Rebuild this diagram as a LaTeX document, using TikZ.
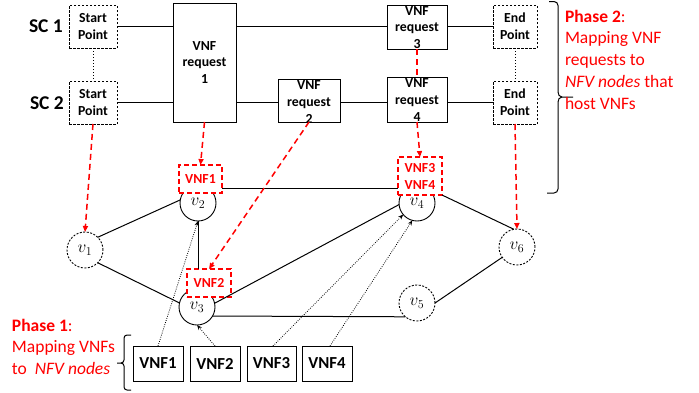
\documentclass[tikz,border=0pt]{standalone}
\usepackage{fontspec}
\setmainfont{Carlito}
\usetikzlibrary{arrows.meta,calc}
\definecolor{myred}{RGB}{255,0,0}
\begin{document}
\begin{tikzpicture}[x=1pt,y=-1pt,
  every node/.style={inner sep=0pt, outer sep=0pt},
  ptbox/.style={draw, line width=0.9pt, dash pattern=on 2.5pt off 1.5pt, fill=white, minimum width=48pt, minimum height=43pt},
  reqbox/.style={draw, line width=1pt, fill=white},
  btxt/.style={font=\fontsize{13.8}{16.8}\selectfont\bfseries, align=center},
  vn/.style={circle, draw, line width=0.9pt, minimum size=36pt, fill=white, font=\fontsize{16.5}{16.5}\selectfont},
  vnd/.style={vn, dash pattern=on 2pt off 1.5pt},
  redbox/.style={draw=myred, line width=1.5pt, dash pattern=on 5pt off 3pt, fill=white, text=myred, font=\fontsize{13.8}{17}\selectfont\bfseries, align=center},
  reddash/.style={draw=myred, line width=1.5pt, dash pattern=on 6pt off 4pt},
  redarr/.style={reddash, -{Triangle[length=6pt,width=5pt]}},
  dotarr/.style={line width=0.8pt, dash pattern=on 0.8pt off 1.4pt, -{Stealth[length=5pt,width=4pt]}},
  lnk/.style={line width=1pt},
  dotlnk/.style={line width=1pt, dash pattern=on 1pt off 2pt},
  vnfbox/.style={draw, line width=1pt, minimum height=35pt, font=\fontsize{16.8}{18}\selectfont\bfseries},
  phase/.style={text=myred, font=\fontsize{17.5}{21.7}\selectfont, align=left, anchor=north west},
  sclab/.style={font=\fontsize{19.5}{21}\selectfont\bfseries, anchor=base west}
]
\useasboundingbox (0,0) rectangle (699,392);
\fill[white] (0,0) rectangle (699,392);

% service chain labels
\node[sclab] (sc1) at (29,32) {SC 1};
\node[sclab] (sc2) at (30,109) {SC 2};

% top boxes
\node[ptbox] (s1) at (93,26.5) {};
\node[btxt] at (s1) {Start\\Point};
\node[ptbox] (s2) at (93,102.5) {};
\node[btxt] at (s2) {Start\\Point};
\node[reqbox, minimum width=63pt, minimum height=119pt] (r1) at (204.5,62.5) {};
\node[btxt] at (r1) {VNF\\request\\1};
\node[reqbox, minimum width=60pt, minimum height=44pt] (r3) at (417,27) {};
\node[btxt] at (417,27.5) {VNF\\request\\3};
\node[reqbox, minimum width=62pt, minimum height=43pt] (r2) at (309,100.5) {};
\node[btxt] at (309,102) {VNF\\request\\2};
\node[reqbox, minimum width=60pt, minimum height=45pt] (r4) at (417,99.5) {};
\node[btxt] at (417,100) {VNF\\request\\4};
\node[ptbox, minimum width=44pt] (e1) at (515,26.5) {};
\node[btxt] at (e1) {End\\Point};
\node[ptbox, minimum width=44pt] (e2) at (515,102.5) {};
\node[btxt] at (e2) {End\\Point};

% chain lines
\draw[lnk] (s1.east) -- (s1.east -| r1.west);
\draw[lnk] (r1.east |- s1.east) -- (r3.west |- s1.east);
\draw[lnk] (r3.east |- s1.east) -- (e1.west);
\draw[lnk] (s2.east) -- (s2.east -| r1.west);
\draw[lnk] (r1.east |- s2.east) -- (r2.west |- s2.east);
\draw[lnk] (r2.east |- s2.east) -- (r4.west |- s2.east);
\draw[lnk] (r4.east |- s2.east) -- (e2.west);
\draw[dotlnk] (s1.south) -- (s2.north);
\draw[dotlnk] (e1.south) -- (e2.north);
\draw[reddash] (r3.south) -- (r4.north);

% graph nodes
\node[vnd] (v1) at (85,250) {$v_1$};
\node[vn] (v2) at (198,203) {$v_2$};
\node[vn] (v3) at (197,307) {$v_3$};
\node[vn] (v4) at (417,203) {$v_4$};
\node[vnd] (v5) at (417,303) {$v_5$};
\node[vnd] (v6) at (517,247) {$v_6$};

% red boxes
\node[redbox, minimum width=43pt, minimum height=28pt] (f1) at (200.5,179) {VNF1};
\node[redbox, minimum width=44pt, minimum height=28pt] (f2) at (209,283) {VNF2};
\node[redbox, minimum width=44pt, minimum height=38pt] (f34) at (420,176) {VNF3\\VNF4};

% graph edges
\draw[lnk] (v1.45) -- (v2.170);
\draw[lnk] (v1.-45) -- (v3.167);
\draw[lnk] (v2.south) -- (v2.south |- f2.north);
\draw[lnk] ([yshift=-9pt]f1.east) -- ([yshift=-9pt]f1.east -| f34.west);
\draw[lnk] (v3.12) -- (v4.185);
\draw[lnk] (v3.-30) -- (v5.230);
\draw[lnk] (f34.south east) -- (v6.100);
\draw[lnk] (v5.east) -- (v6.215);

% bottom VNF boxes
\node[vnfbox, minimum width=50pt] (b1) at (158,363.5) {VNF1};
\node[vnfbox, minimum width=50pt] (b2) at (215,363.5) {VNF2};
\node[vnfbox, minimum width=49pt] (b3) at (271.5,363.5) {VNF3};
\node[vnfbox, minimum width=50pt] (b4) at (327,363.5) {VNF4};

% dotted mapping arrows
\draw[dotarr] (b1.north) -- (v2.south);
\draw[dotarr] (b2.north) -- (v3.south);
\draw[dotarr] ([xshift=1.5pt]b3.north) -- (v4.220);
\draw[dotarr] ([xshift=3pt]b4.north) -- (v4.255);

% red mapping arrows
\draw[redarr] (s2.south) -- (v1.north);
\draw[redarr] (r1.south) -- (f1.north);
\draw[redarr] (r2.south) -- (f2.north);
\draw[redarr] (r4.south) -- (f34.north);
\draw[redarr] (e2.south) -- (v6.north);

% right brace
\draw[line width=1pt] (549,1.5) -- (554,1.5) to[out=0,in=90] (558,5.5) -- (558,92)
  to[out=-90,in=180] (562,97) -- (573,97);
\draw[line width=1pt] (562,97) to[out=180,in=90] (558,102) -- (558,189)
  to[out=-90,in=0] (554,193) -- (547,193);

% left bracket
\draw[line width=1pt] (131,335) -- (127,335) to[out=180,in=90] (124,338) -- (124,360)
  to[out=-90,in=0] (121,363) -- (117,363);
\draw[line width=1pt] (121,363) to[out=0,in=90] (124,366) -- (124,387)
  to[out=-90,in=180] (127,390) -- (131,390);

% phase texts
\node[phase] (p2) at (565,10) {\textbf{Phase 2}:\\Mapping VNF\\requests to\\\textit{NFV nodes} that\\host VNFs};
\node[phase] (p1) at (12,319) {\textbf{Phase 1}:\\Mapping VNFs\\to\ \ \textit{NFV nodes}};
\end{tikzpicture}
\end{document}
